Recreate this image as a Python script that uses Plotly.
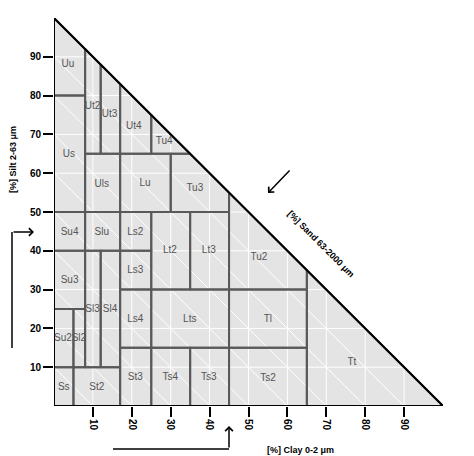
import plotly.graph_objects as go

# --- data: soil texture classes (clay %, silt %) ---
CLASS_NAMES = ["Ss", "St2", "Su2", "Sl2", "Sl3", "Sl4", "Su3", "Su4", "Slu",
               "St3", "Ls4", "Ls3", "Ls2", "Ts4", "Ts3", "Lts", "Lt2", "Lt3",
               "Ts2", "Tl", "Tu2", "Tt", "Us", "Uu", "Ut2", "Ut3", "Ut4", "Tu4",
               "Uls", "Lu", "Tu3"]
CLASS_POLYS = [
    [(0, 0), (5, 0), (5, 10), (0, 10)],
    [(5, 0), (17, 0), (17, 10), (5, 10)],
    [(0, 10), (5, 10), (5, 25), (0, 25)],
    [(5, 10), (8, 10), (8, 25), (5, 25)],
    [(8, 10), (12, 10), (12, 40), (8, 40)],
    [(12, 10), (17, 10), (17, 40), (12, 40)],
    [(0, 25), (8, 25), (8, 40), (0, 40)],
    [(0, 40), (8, 40), (8, 50), (0, 50)],
    [(8, 40), (17, 40), (17, 50), (8, 50)],
    [(17, 0), (25, 0), (25, 15), (17, 15)],
    [(17, 15), (25, 15), (25, 30), (17, 30)],
    [(17, 30), (25, 30), (25, 40), (17, 40)],
    [(17, 40), (25, 40), (25, 50), (17, 50)],
    [(25, 0), (35, 0), (35, 15), (25, 15)],
    [(35, 0), (45, 0), (45, 15), (35, 15)],
    [(25, 15), (45, 15), (45, 30), (25, 30)],
    [(25, 30), (35, 30), (35, 50), (25, 50)],
    [(35, 30), (45, 30), (45, 50), (35, 50)],
    [(45, 0), (65, 0), (65, 15), (45, 15)],
    [(45, 15), (65, 15), (65, 30), (45, 30)],
    [(45, 30), (65, 30), (65, 35), (45, 55)],
    [(65, 0), (100, 0), (65, 35)],
    [(0, 50), (8, 50), (8, 80), (0, 80)],
    [(0, 80), (8, 80), (8, 92), (0, 100)],
    [(8, 65), (12, 65), (12, 88), (8, 92)],
    [(12, 65), (17, 65), (17, 83), (12, 88)],
    [(17, 65), (25, 65), (25, 75), (17, 83)],
    [(25, 65), (35, 65), (25, 75)],
    [(8, 50), (17, 50), (17, 65), (8, 65)],
    [(17, 50), (30, 50), (30, 65), (17, 65)],
    [(30, 50), (45, 50), (45, 55), (35, 65), (30, 65)],
]
LABEL_CLAY = [2.5, 11, 2.3, 6.4, 9.9, 14.4, 4, 4, 12.3,
              20.9, 20.9, 20.9, 20.9, 29.9, 39.8, 34.9, 29.8, 39.8,
              55, 55, 52.7, 76.6, 3.8, 3.6, 9.9, 14.3, 20.5, 28.3,
              12.3, 23.4, 36.2]
LABEL_SILT = [4.7, 4.7, 17.3, 17.3, 24.9, 24.9, 32.4, 44.8, 44.8,
              7.3, 22.3, 34.9, 44.8, 7.3, 7.3, 22.3, 40, 40,
              7.1, 22.2, 38.4, 11.3, 64.7, 88, 77.2, 75.2, 72, 68.1,
              57.1, 57.3, 56]
TICKS = [10, 20, 30, 40, 50, 60, 70, 80, 90]

FONT = "Liberation Sans, Arial, sans-serif"
OFF = 8  # page body margin
W, H = 466, 448
ML, MR, MT, MB = 46, 31, 10, 50
PW, PH = W - ML - MR, H - MT - MB


# page pixel -> paper coords
def px(x):
    return (x - OFF - ML) / PW


def py(y):
    return (H - MB - (y - OFF)) / PH


fig = go.Figure()

# triangle background
fig.add_trace(go.Scatter(x=[0, 100, 0, 0], y=[0, 0, 100, 0], fill="toself",
                         fillcolor="#e4e4e4", mode="none", hoverinfo="skip"))

# white grid inside triangle
gx, gy = [], []
for t in TICKS:
    gx += [t, t, None, 0, 100 - t, None, 0, t, None]
    gy += [0, 100 - t, None, t, t, None, t, 0, None]
fig.add_trace(go.Scatter(x=gx, y=gy, mode="lines", line=dict(color="white", width=1),
                         hoverinfo="skip"))

# class boundaries
bx, by = [], []
for poly in CLASS_POLYS:
    for cx, cy in poly + [poly[0]]:
        bx.append(cx)
        by.append(cy)
    bx.append(None)
    by.append(None)
fig.add_trace(go.Scatter(x=bx, y=by, mode="lines", line=dict(color="#595959", width=2),
                         hoverinfo="skip"))

# triangle outline
fig.add_trace(go.Scatter(x=[0, 100, 0, 0], y=[0, 0, 100, 0], mode="lines",
                         line=dict(color="black", width=2), hoverinfo="skip"))

# class labels
fig.add_trace(go.Scatter(x=LABEL_CLAY, y=LABEL_SILT, mode="text", text=CLASS_NAMES,
                         textfont=dict(family=FONT, size=10, color="#555555"),
                         hoverinfo="skip"))

axis_common = dict(range=[0, 100], showgrid=False, zeroline=False, showline=False,
                   tickmode="array", tickvals=TICKS, ticks="outside", ticklen=10,
                   tickwidth=2, tickcolor="black",
                   tickfont=dict(family=FONT, size=10, color="black", weight="bold"))
fig.update_xaxes(tickangle=90, **axis_common)
fig.update_yaxes(**axis_common)

title_font = dict(family=FONT, size=9, color="black", weight="bold")
for txt, tx, ty, ang in [("[%] Silt 2-63 \u03bcm", 13, 160, -90),
                         ("[%] Clay 0-2 \u03bcm", 300, 450, 0),
                         ("[%] Sand 63-2000 \u03bcm", 321, 244, 45)]:
    fig.add_annotation(text=txt, xref="paper", yref="paper", x=px(tx), y=py(ty),
                       xanchor="center", yanchor="middle", textangle=ang,
                       showarrow=False, font=title_font)

# direction arrows
arrow_line = dict(color="black", width=1.5)
for x0, y0, x1, y1 in [(12, 348, 12, 232), (113, 449, 229, 449)]:
    fig.add_shape(type="line", xref="paper", yref="paper", x0=px(x0), y0=py(y0),
                  x1=px(x1), y1=py(y1), line=arrow_line)
for hx, hy, tx, ty in [(34, 232, 12, 232), (229, 426, 229, 449), (268, 193, 291, 169)]:
    fig.add_annotation(text="", xref="paper", yref="paper", x=px(hx), y=py(hy),
                       ax=tx - hx, ay=ty - hy, showarrow=True, arrowhead=4,
                       arrowsize=1, arrowwidth=1.5, arrowcolor="black", standoff=0)

fig.update_layout(width=W, height=H, margin=dict(l=ML, r=MR, t=MT, b=MB),
                  plot_bgcolor="white", paper_bgcolor="white", showlegend=False)

fig.write_html("out.html")
